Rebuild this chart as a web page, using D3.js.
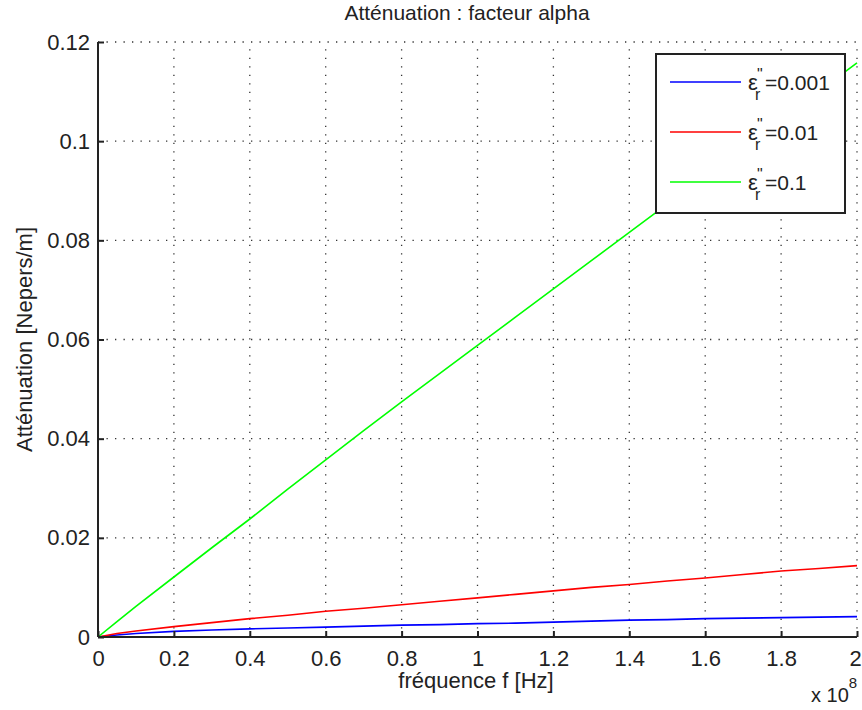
<!DOCTYPE html>
<html>
<head>
<meta charset="utf-8">
<script src="https://cdn.jsdelivr.net/npm/d3@7"></script>
<style>
  body { margin: 0; background: #fff; }
  text { font-family: "Liberation Sans", Arial, sans-serif; fill: #222; }
</style>
</head>
<body>
<script>
// frequence en unites de 1e8 Hz
var freq = [0, 0.05, 0.1, 0.2, 0.3, 0.4, 0.5, 0.6, 0.7, 0.8, 0.9, 1.0,
            1.1, 1.2, 1.3, 1.4, 1.5, 1.6, 1.7, 1.8, 1.9, 2.0];
var alpha_001 = [0, 0.0004, 0.0007, 0.00114, 0.0014, 0.00163, 0.0018, 0.0020, 0.0022, 0.0024, 0.0025, 0.0027,
                 0.0028, 0.0030, 0.0032, 0.0034, 0.0035, 0.0037, 0.0038, 0.0039, 0.0040, 0.0041];
var alpha_01 = [0, 0.0007, 0.0012, 0.0021, 0.0029, 0.0037, 0.0044, 0.0052, 0.0058, 0.0065, 0.0072, 0.0079,
                0.0086, 0.0093, 0.0100, 0.0106, 0.0113, 0.0119, 0.0126, 0.0133, 0.0138, 0.0144];
var alpha_1 = [0, 0.0031, 0.0062, 0.0121, 0.0180, 0.0238, 0.0298, 0.0357, 0.0416, 0.0474, 0.0531, 0.0588,
               0.0645, 0.0702, 0.0759, 0.0816, 0.0873, 0.0930, 0.0987, 0.1044, 0.1101, 0.1158];
var seriesNames = ["0.001", "0.01", "0.1"];
var seriesColors = ["#0000ff", "#ff0000", "#00ff00"];
var xTicks = [0, 0.2, 0.4, 0.6, 0.8, 1, 1.2, 1.4, 1.6, 1.8, 2];
var yTicks = [0, 0.02, 0.04, 0.06, 0.08, 0.1, 0.12];

var width = 862, height = 710;
var margin = {left: 98, right: 5, top: 42, bottom: 73};

var svg = d3.select("body")
    .append("svg")
    .attr("width", width)
    .attr("height", height);

var x = d3.scaleLinear().domain([0, 2]).range([margin.left, width - margin.right]);
var y = d3.scaleLinear().domain([0, 0.12]).range([height - margin.bottom, margin.top]);

// grille pointillee
svg.append("g")
    .selectAll("line")
    .data(xTicks.slice(1))
    .enter()
    .append("line")
    .attr("x1", function(d) { return x(d); })
    .attr("x2", function(d) { return x(d); })
    .attr("y1", y(0))
    .attr("y2", y(0.12))
    .attr("stroke", "#333")
    .attr("stroke-width", 1.3)
    .attr("stroke-dasharray", "1.3,7.2");

svg.append("g")
    .selectAll("line")
    .data(yTicks.slice(1))
    .enter()
    .append("line")
    .attr("x1", x(0))
    .attr("x2", x(2))
    .attr("y1", function(d) { return y(d); })
    .attr("y2", function(d) { return y(d); })
    .attr("stroke", "#333")
    .attr("stroke-width", 1.3)
    .attr("stroke-dasharray", "1.3,7.2");

// courbes
var series = [alpha_001, alpha_01, alpha_1];
var line = d3.line()
    .x(function(d, i) { return x(freq[i]); })
    .y(function(d) { return y(d); });

svg.append("g")
    .selectAll("path")
    .data(series)
    .enter()
    .append("path")
    .attr("d", line)
    .attr("fill", "none")
    .attr("stroke", function(d, i) { return seriesColors[i]; })
    .attr("stroke-width", 1.6);

// axes
var xAxis = d3.axisBottom(x)
    .tickValues(xTicks)
    .tickSize(-6)
    .tickPadding(13)
    .tickFormat(d3.format("~g"));
var yAxis = d3.axisLeft(y)
    .tickValues(yTicks)
    .tickSize(-6)
    .tickPadding(8)
    .tickFormat(d3.format("~g"));

var gx = svg.append("g")
    .attr("transform", "translate(0," + y(0) + ")")
    .call(xAxis);
var gy = svg.append("g")
    .attr("transform", "translate(" + x(0) + ",0)")
    .call(yAxis);

[gx, gy].forEach(function(g) {
    g.select(".domain").attr("stroke", "#222").attr("stroke-width", 2);
    g.selectAll(".tick line").attr("stroke", "#222").attr("stroke-width", 2);
    g.selectAll(".tick text")
        .style("font-family", "'Liberation Sans', Arial, sans-serif")
        .style("font-size", "22px")
        .attr("fill", "#222");
});
gy.select(".domain").attr("d", "M0," + y(0) + "V" + y(0.12));
gx.select(".domain").attr("d", "M" + x(0) + ",0H" + x(2));
gx.selectAll(".tick text")
    .filter(function(d) { return d === 2; })
    .attr("dx", -2);

// titres
svg.append("text")
    .attr("x", 467)
    .attr("y", 20)
    .attr("text-anchor", "middle")
    .attr("font-size", "21px")
    .text("Atténuation : facteur alpha");

svg.append("text")
    .attr("x", 476)
    .attr("y", 688)
    .attr("text-anchor", "middle")
    .attr("font-size", "22px")
    .text("fréquence f [Hz]");

svg.append("text")
    .attr("transform", "translate(32," + ((y(0) + y(0.12)) / 2) + ") rotate(-90)")
    .attr("text-anchor", "middle")
    .attr("font-size", "22px")
    .text("Atténuation [Nepers/m]");

var expo = svg.append("text")
    .attr("x", 811)
    .attr("y", 702)
    .attr("font-size", "20px");
expo.append("tspan").text("x 10");
expo.append("tspan")
    .attr("dy", -14)
    .attr("font-size", "15px")
    .text("8");

// legende
var legend = svg.append("g");
legend.append("rect")
    .attr("x", 656)
    .attr("y", 54)
    .attr("width", 189)
    .attr("height", 159)
    .attr("fill", "#fff")
    .attr("stroke", "#222")
    .attr("stroke-width", 2);

var item = legend.selectAll(".item")
    .data(seriesNames)
    .enter()
    .append("g")
    .attr("class", "item")
    .attr("transform", function(d, i) {
        return "translate(0," + (82 + i * 50) + ")";
    });

item.append("line")
    .attr("x1", 670)
    .attr("x2", 741)
    .attr("stroke", function(d, i) { return seriesColors[i]; })
    .attr("stroke-width", 1.6);

var lab = item.append("text")
    .attr("x", 748)
    .attr("y", 8)
    .attr("font-size", "22px");
lab.append("tspan").text("ε");
lab.append("tspan")
    .attr("x", 755)
    .attr("y", 18)
    .attr("font-size", "16px")
    .text("r");
lab.append("tspan")
    .attr("x", 757)
    .attr("y", -2)
    .attr("font-size", "16px")
    .text("\"");
lab.append("tspan")
    .attr("x", 765)
    .attr("y", 8)
    .attr("font-size", "21px")
    .text(function(d) { return "=" + d; });
</script>
</body>
</html>
